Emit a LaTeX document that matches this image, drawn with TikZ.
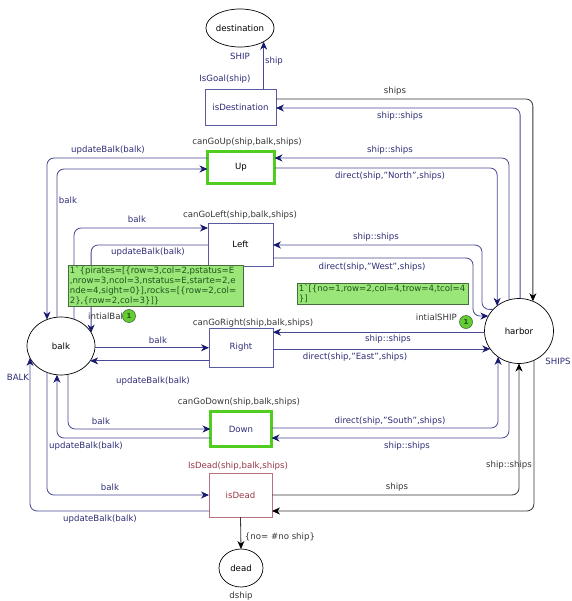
\documentclass[tikz,border=0pt]{standalone}
\usepackage{fontspec}
\setmainfont{DejaVu Sans}
\usetikzlibrary{arrows.meta,shapes.geometric}
\definecolor{arcc}{RGB}{72,72,150}
\definecolor{tipc}{RGB}{25,25,110}
\definecolor{labc}{RGB}{45,45,120}
\definecolor{grayc}{RGB}{55,55,55}
\definecolor{redc}{RGB}{150,55,70}
\definecolor{boxc}{RGB}{90,90,160}
\definecolor{mfill}{RGB}{155,230,120}
\definecolor{mdraw}{RGB}{70,110,60}
\definecolor{mtext}{RGB}{30,85,30}
\definecolor{gthick}{RGB}{80,205,30}
\definecolor{gedge}{RGB}{40,100,20}
\definecolor{cfill}{RGB}{100,205,50}
\begin{document}
\begin{tikzpicture}[x=1pt,y=-1pt,
  every node/.style={font=\fontsize{8.6}{10.7}\selectfont, inner sep=1pt},
  place/.style={ellipse, draw=black, line width=0.7pt, fill=white, inner sep=0pt, outer sep=0pt, text=black},
  trans/.style={rectangle, draw=boxc, line width=0.7pt, fill=white, inner sep=0pt, outer sep=0pt, text=black},
  greenbox/.style={trans, draw=gedge, line width=0.5pt, double=gthick, double distance=2.2pt},
  barc/.style={draw=arcc, line width=0.8pt, rounded corners=7pt, -{Stealth[length=8pt,width=7pt,inset=2.5pt,color=tipc]}},
  karc/.style={draw=grayc, line width=0.8pt, rounded corners=7pt, -{Stealth[length=8pt,width=7pt,inset=2.5pt,color=black]}},
  lab/.style={text=labc},
  klab/.style={text=grayc},
  mbox/.style={rectangle, fill=mfill, draw=mdraw, line width=0.6pt, text=mtext, align=left, inner sep=1.5pt, anchor=north west, font=\fontsize{8.6}{10}\selectfont},
  cnt/.style={circle, fill=cfill, draw=mdraw, line width=0.6pt, minimum size=13pt, inner sep=0pt, font=\fontsize{7}{8}\selectfont\bfseries, text=mtext}
]
\useasboundingbox (0,0) rectangle (571,601);
\fill[white] (0,0) rectangle (571,601);

% places
\node[place, minimum width=65pt, minimum height=38pt] (dest) at (240,28) {destination};
\node[place, minimum width=68pt, minimum height=58pt] (balk) at (61,346) {balk};
\node[place, minimum width=69pt, minimum height=65pt] (harbor) at (519,331) {harbor};
\node[place, minimum width=44pt, minimum height=38pt] (dead) at (241,568) {dead};

% transitions
\node[trans, minimum width=71pt, minimum height=36pt, text=labc] (isDest) at (240.5,107) {isDestination};
\node[greenbox, minimum width=67pt, minimum height=32pt] (Up) at (241,167.5) {Up};
\node[trans, minimum width=65pt, minimum height=43pt] (Left) at (240.5,244.5) {Left};
\node[trans, minimum width=64pt, minimum height=39pt, text=labc] (Right) at (241,347.5) {Right};
\node[greenbox, minimum width=61pt, minimum height=35pt, text=labc] (Down) at (241,429) {Down};
\node[trans, draw=redc!70, minimum width=63pt, minimum height=44pt, text=redc] (isDead) at (240.5,495) {isDead};

% arcs right side
\draw[barc] (isDest.north -| dest.330) -- (dest.330);
\draw[karc] (isDest.east |- 0,99) -| (harbor.65);
\draw[barc] (harbor.88) |- (isDest.east |- 0,108);
\draw[barc] (harbor.108) |- (Up.east |- 0,158);
\draw[barc] (Up.east |- 0,168) -| (harbor.131);
\draw[barc] (harbor.140) -- (harbor.140 -| 482,0) |- (Left.east |- 0,245);
\draw[barc] (Left.east |- 0,258) -| (harbor.154 -| 473,0) -- (harbor.154);
\draw[barc] (harbor.182) -- (harbor.182 -| Right.east);
\draw[barc] (Right.east |- harbor.212) -- (harbor.212);
\draw[barc] (Down.east |- 0,428) -| (harbor.231);
\draw[barc] (harbor.252) |- (Down.east |- 0,438);
\draw[karc] (isDead.east |- 0,495) -| (harbor.270);
\draw[karc] (harbor.297) |- (isDead.east |- 0,511);
% arcs left side
\draw[barc] (balk.98) |- (Up.west |- 0,169);
\draw[barc] (Up.west |- 0,158) -| (balk.118);
\draw[barc] (balk.64) |- (Left.west |- 0,228);
\draw[barc] (Left.west |- 0,245) -| (balk.24);
\draw[barc] (balk.357) -- (balk.357 -| Right.west);
\draw[barc] (Right.west |- balk.333) -- (balk.333);
\draw[barc] (balk.284) |- (Down.west |- 0,429);
\draw[barc] (Down.west |- 0,438) -| (balk.262);
\draw[barc] (balk.242) |- (isDead.west |- 0,495);
\draw[barc] (isDead.west |- 0,511) -| (balk.201);
\draw[karc] (isDead.south) -- (dead.north);

% markings
\node[mbox, text width=172pt] (bmark) at (68,265) {1\textasciigrave\{pirates=[\{row=3,col=2,pstatus=E\\,nrow=3,ncol=3,nstatus=E,starte=2,e\\nde=4,sight=0\}],rocks=[\{row=2,col=\\2\},\{row=2,col=3\}]\}};
\node[mbox, text width=168pt] (hmark) at (297,283) {1\textasciigrave[\{no=1,row=2,col=4,trow=4,tcol=4\\\}]};
\node[anchor=west, text=grayc] (binit) at (87,316) {intialBalk};
\node[cnt] (bcnt) at (129,316) {1};
\node[anchor=east, text=grayc] (hinit) at (458,317) {intialSHIP};
\node[cnt] (hcnt) at (466,322) {1};

% place colour sets
\node[lab] (cs1) at (240,56) {SHIP};
\node[lab] (cs2) at (18,377) {BALK};
\node[lab] (cs3) at (558,361) {SHIPS};
\node[klab] (cs4) at (241,596) {dship};

% guards
\node[lab] (g1) at (225,79) {IsGoal(ship)};
\node[klab] (g2) at (247,142) {canGoUp(ship,balk,ships)};
\node[klab] (g3) at (240,215) {canGoLeft(ship,balk,ships)};
\node[klab] (g4) at (253,323) {canGoRight(ship,balk,ships)};
\node[klab] (g5) at (239,402) {canGoDown(ship,balk,ships)};
\node[text=redc] (g6) at (238,466) {IsDead(ship,balk,ships)};

% arc inscriptions
\node[lab] (a1) at (274,61) {ship};
\node[klab] (a2) at (395,91) {ships};
\node[lab] (a3) at (400,116) {ship::ships};
\node[lab] (a4) at (390,150) {ship::ships};
\node[lab] (a5) at (390,176) {direct(ship,"North",ships)};
\node[lab] (a6) at (376,237) {ship::ships};
\node[lab] (a7) at (372,267) {direct(ship,"West",ships)};
\node[lab] (a8) at (388,339) {ship::ships};
\node[lab] (a9) at (355,357) {direct(ship,"East",ships)};
\node[lab] (a10) at (390,421) {direct(ship,"South",ships)};
\node[lab] (a11) at (407,446) {ship::ships};
\node[klab] (a12) at (397,487) {ships};
\node[klab] (a13) at (509,465) {ship::ships};
\node[lab] (a14) at (108,150) {updateBalk(balk)};
\node[lab] (a15) at (68,200) {balk};
\node[lab] (a16) at (137,219) {balk};
\node[lab] (a17) at (148,252) {updateBalk(balk)};
\node[lab] (a18) at (158,340) {balk};
\node[lab] (a19) at (153,381) {updateBalk(balk)};
\node[lab] (a20) at (101,421) {balk};
\node[lab] (a21) at (86,446) {updateBalk(balk)};
\node[lab] (a22) at (110,487) {balk};
\node[lab] (a23) at (100,519) {updateBalk(balk)};
\node[klab] (a24) at (280,537) {\{no= \#no ship\}};
\end{tikzpicture}
\end{document}
